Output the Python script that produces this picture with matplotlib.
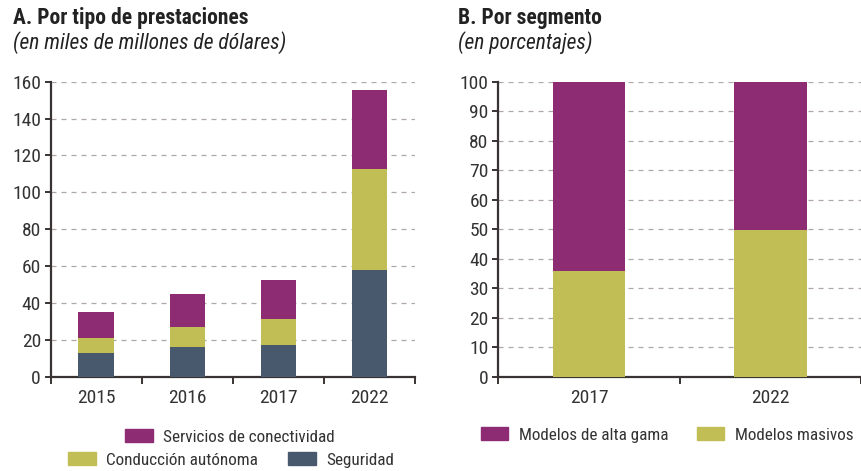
import matplotlib.pyplot as plt
import matplotlib.patches as mpatches
from matplotlib import font_manager
import numpy as np

# pick the narrowest font available (the original uses a condensed face)
names = {f.name for f in font_manager.fontManager.ttflist}
if 'Roboto Condensed' in names:
    fam, k = 'Roboto Condensed', 1.0
elif 'Liberation Sans Narrow' in names:
    fam, k = 'Liberation Sans Narrow', 1.0
else:
    fam, k = 'Roboto', 0.87
plt.rcParams['font.family'] = [fam, 'DejaVu Sans']
fs_tick = 14 * k
fs_title = 15.5 * k
fs_leg = 12.3 * k

# panel A: billions of dollars
years_a = ['2015', '2016', '2017', '2022']
seguridad = [13.0, 16.3, 17.2, 57.9]
conduccion = [8.1, 10.5, 14.3, 54.7]
servicios = [13.8, 17.9, 20.8, 42.9]

# panel B: percentages
years_b = ['2017', '2022']
masivos = [35.7, 49.9]
alta_gama = [64.3, 50.1]

c_purple = '#8E2C73'
c_yellow = '#C1BE55'
c_slate = '#48596E'
c_axis = '#3a3333'
c_text = '#333333'

fig = plt.figure(figsize=(8.61, 4.71), dpi=100)


def style_axis(ax, ncat, ymax, ystep):
    ax.set_xlim(0, ncat)
    ax.set_ylim(0, ymax)
    for s in ['top', 'right']:
        ax.spines[s].set_visible(False)
    for s in ['left', 'bottom']:
        ax.spines[s].set_color(c_axis)
        ax.spines[s].set_linewidth(1.6)
    ax.set_yticks(np.arange(0, ymax + 1, ystep))
    ax.yaxis.grid(True, linestyle=(0, (4, 4)), color='#b0a8a8', linewidth=0.9)
    ax.set_axisbelow(True)
    ax.tick_params(axis='y', length=4, width=1.4, color=c_axis, labelsize=fs_tick,
                   labelcolor=c_text, pad=3)
    # boundaries as ticks, labels in the middle
    ax.set_xticks(np.arange(0, ncat + 1))
    ax.set_xticklabels([])
    ax.tick_params(axis='x', which='major', length=5, width=1.4, color=c_axis)


ax1 = fig.add_axes([0.0589, 0.2002, 0.4231, 0.6263])
x1 = np.arange(len(years_a)) + 0.5
style_axis(ax1, len(years_a), 160, 20)
w = 0.39
b1 = np.array(seguridad)
b2 = b1 + np.array(conduccion)
ax1.bar(x1, seguridad, w, color=c_slate, zorder=3)
ax1.bar(x1, conduccion, w, bottom=b1, color=c_yellow, zorder=3)
ax1.bar(x1, servicios, w, bottom=b2, color=c_purple, zorder=3)
ax1.set_xticks(x1, minor=True)
ax1.set_xticklabels(years_a, minor=True)
ax1.tick_params(axis='x', which='minor', length=0, labelsize=fs_tick,
                labelcolor=c_text, pad=9)

ax2 = fig.add_axes([0.5787, 0.2002, 0.4213, 0.6263])
x2 = np.arange(len(years_b)) + 0.5
style_axis(ax2, len(years_b), 100, 10)
w2 = 0.4
ax2.bar(x2, masivos, w2, color=c_yellow, zorder=3)
ax2.bar(x2, alta_gama, w2, bottom=masivos, color=c_purple, zorder=3)
ax2.set_xticks(x2, minor=True)
ax2.set_xticklabels(years_b, minor=True)
ax2.tick_params(axis='x', which='minor', length=0, labelsize=fs_tick,
                labelcolor=c_text, pad=9)

# titles
fig.text(13 / 861, 1 - 18 / 471, 'A. Por tipo de prestaciones', fontsize=fs_title,
         fontweight='bold', color='#222222', va='center')
fig.text(13 / 861, 1 - 43 / 471, '(en miles de millones de dólares)', fontsize=fs_title,
         fontstyle='italic', color='#222222', va='center')
fig.text(458 / 861, 1 - 18 / 471, 'B. Por segmento', fontsize=fs_title,
         fontweight='bold', color='#222222', va='center')
fig.text(458 / 861, 1 - 43 / 471, '(en porcentajes)', fontsize=fs_title,
         fontstyle='italic', color='#222222', va='center')

# legends
lkw = dict(frameon=False, fontsize=fs_leg, handlelength=1.6, handleheight=0.75,
           handletextpad=0.6, borderpad=0, borderaxespad=0, labelcolor=c_text)
h_serv = mpatches.Patch(color=c_purple, label='Servicios de conectividad')
h_cond = mpatches.Patch(color=c_yellow, label='Conducción autónoma')
h_seg = mpatches.Patch(color=c_slate, label='Seguridad')
fig.legend(handles=[h_serv], loc='center', bbox_to_anchor=(230 / 861, 1 - 437 / 471), **lkw)
fig.legend(handles=[h_cond, h_seg], ncol=2, loc='center', columnspacing=1.8,
           bbox_to_anchor=(231 / 861, 1 - 460 / 471), **lkw)
h_alta = mpatches.Patch(color=c_purple, label='Modelos de alta gama')
h_mas = mpatches.Patch(color=c_yellow, label='Modelos masivos')
fig.legend(handles=[h_alta, h_mas], ncol=2, loc='center left', columnspacing=1.7,
           bbox_to_anchor=(481 / 861, 1 - 435 / 471), **lkw)

fig.savefig('out.png', dpi=100)
